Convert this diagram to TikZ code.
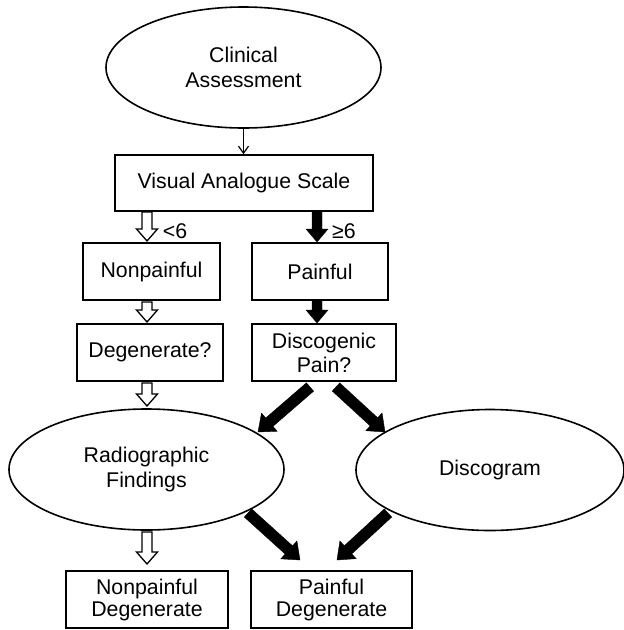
\documentclass[tikz,border=0pt]{standalone}
\usepackage{fontspec}
\setmainfont{Liberation Sans}
\usetikzlibrary{shapes.geometric,calc,arrows.meta}
% #1 style, #2 start, #3 tip, #4 half shaft width, #5 half head width, #6 head length
\newcommand\BlkArrow[6]{%
  \coordinate (bahead) at ($(#3)!#6!(#2)$);
  \draw[#1] ($(#2)!#4!90:(#3)$) -- ($(bahead)!#4!-90:(#2)$) -- ($(bahead)!#5!-90:(#2)$)
    -- (#3) -- ($(bahead)!#5!90:(#2)$) -- ($(bahead)!#4!90:(#2)$) -- ($(#2)!#4!-90:(#3)$) -- cycle;
}
\begin{document}
\begin{tikzpicture}[x=1pt,y=-1pt,
  every node/.style={font=\fontsize{21.3}{25}\selectfont, align=center, inner sep=0pt},
  box/.style={draw, line width=1.6pt, rectangle, minimum height=57pt},
  oval/.style={draw, line width=1.6pt, ellipse, minimum width=275pt, minimum height=121pt},
  tight/.style={font=\fontsize{21.3}{22}\selectfont},
  hollowarr/.style={draw, fill=white, line width=1.3pt, line join=miter},
  blackarr/.style={fill=black, draw=black, line width=0.4pt},
  thinarr/.style={line width=1.2pt, -{Straight Barb[length=7pt,width=10pt]}}
]
\useasboundingbox (0,0) rectangle (624,630);

% nodes
\node[oval] (ca) at (243.5,67.5) {Clinical\\Assessment};
\node[box, minimum width=258pt, minimum height=56pt] (vas) at (244,183) {Visual Analogue Scale};
\node[box, minimum width=137pt] (np) at (151.5,271.5) {Nonpainful};
\node[box, minimum width=136pt] (p) at (320,271.5) {Painful};
\node[box, minimum width=146pt] (deg) at (150,352.5) {Degenerate?};
\node[box, minimum width=144pt, font=\fontsize{21.3}{24}\selectfont] (dp) at (324,352.5) {Discogenic\\Pain?};
\node[oval] (rf) at (146.5,469.5) {Radiographic\\Findings};
\node[oval, minimum width=268pt] (dg) at (490,470) {Discogram};
\node[box, tight, minimum width=162pt] (npd) at (147,599.5) {Nonpainful\\Degenerate};
\node[box, tight, minimum width=161pt] (pd) at (331.5,599.5) {Painful\\Degenerate};

% labels
\node (lt) at (175,231) {<6};
\node (ge) at (344,231) {≥6};

% thin arrow
\draw[thinarr] (ca.south) -- (ca.south |- vas.north);

% arrow end points
\coordinate (h1s) at (147,212); \coordinate (h1e) at (147,241);
\coordinate (b1s) at (317,212); \coordinate (b1e) at (317,242);
\coordinate (h2s) at (147,302); \coordinate (h2e) at (147,322);
\coordinate (b2s) at (317,301); \coordinate (b2e) at (317,323);
\coordinate (h3s) at (147,383); \coordinate (h3e) at (147,406);
\coordinate (h4s) at (147,532); \coordinate (h4e) at (147,564);
\coordinate (d1s) at (310,387); \coordinate (d1e) at (258,432);
\coordinate (d2s) at (336,387); \coordinate (d2e) at (385,432);
\coordinate (d3s) at (248,513); \coordinate (d3e) at (300,560);
\coordinate (d4s) at (388,513); \coordinate (d4e) at (337,560);

% hollow arrows
\BlkArrow{hollowarr}{h1s}{h1e}{5pt}{10.5pt}{12pt}
\BlkArrow{hollowarr}{h2s}{h2e}{5pt}{10.5pt}{12pt}
\BlkArrow{hollowarr}{h3s}{h3e}{5pt}{10.5pt}{12pt}
\BlkArrow{hollowarr}{h4s}{h4e}{5pt}{10.5pt}{12pt}
% black arrows
\BlkArrow{blackarr}{b1s}{b1e}{5pt}{11pt}{13pt}
\BlkArrow{blackarr}{b2s}{b2e}{5pt}{11pt}{13pt}
\BlkArrow{blackarr}{d1s}{d1e}{5.5pt}{12pt}{15pt}
\BlkArrow{blackarr}{d2s}{d2e}{5.5pt}{12pt}{15pt}
\BlkArrow{blackarr}{d3s}{d3e}{5.5pt}{12pt}{15pt}
\BlkArrow{blackarr}{d4s}{d4e}{5.5pt}{12pt}{15pt}
\end{tikzpicture}
\end{document}
